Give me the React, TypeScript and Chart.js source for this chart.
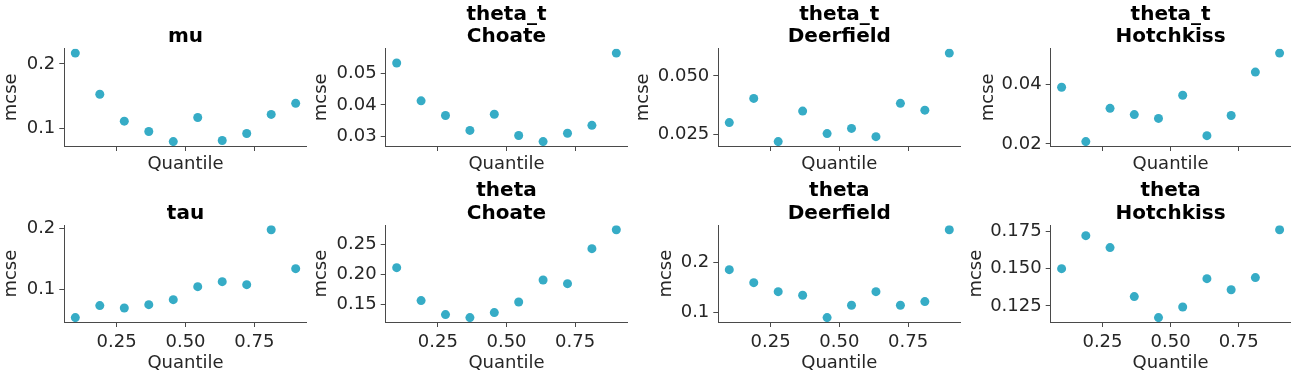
import React, { useEffect, useRef } from 'react';
import { Chart, registerables } from 'chart.js';

Chart.register(...registerables);

// ---------------- data ----------------
const quantiles = [0.1, 0.1889, 0.2778, 0.3667, 0.4556, 0.5444, 0.6333, 0.7222, 0.8111, 0.9];
const xTickLabels = ['0.25', '0.50', '0.75'];

const muMcse = [0.2167, 0.1527, 0.1109, 0.0948, 0.0792, 0.1167, 0.0808, 0.0917, 0.1214, 0.1386];
const thetaTChoateMcse = [0.0532, 0.0413, 0.0367, 0.032, 0.0371, 0.0304, 0.0285, 0.0311, 0.0336, 0.0563];
const thetaTDeerfieldMcse = [0.0301, 0.0404, 0.022, 0.035, 0.0254, 0.0276, 0.0241, 0.0383, 0.0354, 0.0597];
const thetaTHotchkissMcse = [0.0391, 0.0208, 0.032, 0.0299, 0.0286, 0.0364, 0.0228, 0.0296, 0.0442, 0.0506];
const tauMcse = [0.0541, 0.0738, 0.0699, 0.0754, 0.0836, 0.1049, 0.1131, 0.1082, 0.1984, 0.1344];
const thetaChoateMcse = [0.2117, 0.1567, 0.1333, 0.1283, 0.1367, 0.1544, 0.1911, 0.185, 0.2433, 0.275];
const thetaDeerfieldMcse = [0.186, 0.16, 0.142, 0.1347, 0.09, 0.1147, 0.142, 0.1147, 0.122, 0.266];
const thetaHotchkissMcse = [0.15, 0.1721, 0.1641, 0.1313, 0.1172, 0.1243, 0.1433, 0.1359, 0.144, 0.1761];

const muTicks = ['0.1', '0.2'];
const thetaTChoateTicks = ['0.03', '0.04', '0.05'];
const thetaTDeerfieldTicks = ['0.025', '0.050'];
const thetaTHotchkissTicks = ['0.02', '0.04'];
const tauTicks = ['0.1', '0.2'];
const thetaChoateTicks = ['0.15', '0.20', '0.25'];
const thetaDeerfieldTicks = ['0.1', '0.2'];
const thetaHotchkissTicks = ['0.125', '0.150', '0.175'];

const muTitle = ['mu'];
const thetaTChoateTitle = ['theta_t', 'Choate'];
const thetaTDeerfieldTitle = ['theta_t', 'Deerfield'];
const thetaTHotchkissTitle = ['theta_t', 'Hotchkiss'];
const tauTitle = ['tau'];
const thetaChoateTitle = ['theta', 'Choate'];
const thetaDeerfieldTitle = ['theta', 'Deerfield'];
const thetaHotchkissTitle = ['theta', 'Hotchkiss'];

// ---------------- layout / style ----------------
const W = 1295;
const H = 376;
const colLeft = [64.3, 385.7, 718.3, 1050.7];
const colRight = [306.7, 627.3, 960.3, 1292.7];
const rowTop = [48.7, 225.3];
const rowBottom = [146, 322];
const xTitleY = [164, 363];
const yTitleXRows = [
  [11.7, 321.7, 643.4, 988.4],
  [11.7, 321.7, 666.7, 976.7],
];

const FONT = 'DejaVu Sans';
const LABEL_SIZE = 18;
const LABEL_LH = LABEL_SIZE * 1.2;
const TITLE_SIZE = 20;
const TITLE_LH = 22.5;
const POINT_COLOR = '#36acc6';
const TEXT_COLOR = '#262626';
const AXIS_COLOR = '#4a4a4a';

type Panel = { title: string[]; values: number[]; yTicks: string[]; row: number; col: number };

const panels: Panel[] = [
  { title: muTitle, values: muMcse, yTicks: muTicks, row: 0, col: 0 },
  { title: thetaTChoateTitle, values: thetaTChoateMcse, yTicks: thetaTChoateTicks, row: 0, col: 1 },
  { title: thetaTDeerfieldTitle, values: thetaTDeerfieldMcse, yTicks: thetaTDeerfieldTicks, row: 0, col: 2 },
  { title: thetaTHotchkissTitle, values: thetaTHotchkissMcse, yTicks: thetaTHotchkissTicks, row: 0, col: 3 },
  { title: tauTitle, values: tauMcse, yTicks: tauTicks, row: 1, col: 0 },
  { title: thetaChoateTitle, values: thetaChoateMcse, yTicks: thetaChoateTicks, row: 1, col: 1 },
  { title: thetaDeerfieldTitle, values: thetaDeerfieldMcse, yTicks: thetaDeerfieldTicks, row: 1, col: 2 },
  { title: thetaHotchkissTitle, values: thetaHotchkissMcse, yTicks: thetaHotchkissTicks, row: 1, col: 3 },
];

function withMargin(vals: number[]) {
  const lo = Math.min(...vals);
  const hi = Math.max(...vals);
  const m = (hi - lo) * 0.05;
  return [lo - m, hi + m];
}

function makeConfig(p: Panel): any {
  const plotL = colLeft[p.col];
  const plotR = colRight[p.col];
  const plotT = rowTop[p.row];
  const plotB = rowBottom[p.row];
  const yTitleX = yTitleXRows[p.row][p.col];
  const padLeft = yTitleX - LABEL_LH / 2;
  const yWidth = plotL - padLeft;
  const xBottom = xTitleY[p.row] + LABEL_LH / 2;
  const xHeight = xBottom - plotB;
  const padBottom = H - xBottom;
  const titlePadBottom = 0.5;
  const padTop = Math.max(0, plotT - titlePadBottom - p.title.length * TITLE_LH);
  const titlePadTop = plotT - titlePadBottom - p.title.length * TITLE_LH - padTop;
  const [xMin, xMax] = withMargin(quantiles);
  const [yMin, yMax] = withMargin(p.values);
  const yTickVals = p.yTicks.map((t) => parseFloat(t));
  const xTickVals = xTickLabels.map((t) => parseFloat(t));

  const gridOpts = {
    display: true,
    drawOnChartArea: false,
    drawTicks: true,
    tickLength: 5,
    color: AXIS_COLOR,
    lineWidth: 1,
  };
  const borderOpts = { display: true, color: AXIS_COLOR, width: 1 };

  return {
    type: 'scatter',
    data: {
      datasets: [
        {
          data: quantiles.map((q, i) => ({ x: q, y: p.values[i] })),
          backgroundColor: POINT_COLOR,
          borderColor: POINT_COLOR,
          borderWidth: 0,
          pointRadius: 4.5,
        },
      ],
    },
    options: {
      animation: false,
      responsive: false,
      devicePixelRatio: 1,
      events: [],
      layout: {
        padding: { left: padLeft, right: W - plotR, top: padTop, bottom: padBottom },
      },
      plugins: {
        legend: { display: false },
        tooltip: { enabled: false },
        title: {
          display: true,
          fullSize: false,
          text: p.title,
          color: '#000000',
          font: { family: FONT, size: TITLE_SIZE, weight: 'bold', lineHeight: TITLE_LH + 'px' },
          padding: { top: titlePadTop, bottom: titlePadBottom },
        },
      },
      scales: {
        x: {
          type: 'linear',
          min: xMin,
          max: xMax,
          afterBuildTicks: (scale: any) => {
            scale.ticks = xTickVals.map((v) => ({ value: v }));
          },
          afterFit: (scale: any) => {
            scale.height = xHeight;
          },
          ticks: {
            display: p.row === 1,
            autoSkip: false,
            maxRotation: 0,
            padding: 5,
            color: TEXT_COLOR,
            font: { family: FONT, size: LABEL_SIZE },
            callback: (_v: any, i: number) => xTickLabels[i],
          },
          grid: gridOpts,
          border: borderOpts,
          title: {
            display: true,
            text: 'Quantile',
            color: TEXT_COLOR,
            padding: 0,
            font: { family: FONT, size: LABEL_SIZE, lineHeight: 1.2 },
          },
        },
        y: {
          type: 'linear',
          min: yMin,
          max: yMax,
          afterBuildTicks: (scale: any) => {
            scale.ticks = yTickVals.map((v) => ({ value: v }));
          },
          afterFit: (scale: any) => {
            scale.width = yWidth;
          },
          ticks: {
            autoSkip: false,
            padding: 4,
            color: TEXT_COLOR,
            font: { family: FONT, size: LABEL_SIZE },
            callback: (_v: any, i: number) => p.yTicks[i],
          },
          grid: gridOpts,
          border: borderOpts,
          title: {
            display: true,
            text: 'mcse',
            color: TEXT_COLOR,
            padding: 0,
            font: { family: FONT, size: LABEL_SIZE, lineHeight: 1.2 },
          },
        },
      },
    },
  };
}

function PanelCanvas({ panel }: { panel: Panel }) {
  const ref = useRef<HTMLCanvasElement | null>(null);
  useEffect(() => {
    if (!ref.current) return;
    const chart = new Chart(ref.current, makeConfig(panel));
    return () => chart.destroy();
  }, [panel]);
  return (
    <canvas
      ref={ref}
      width={W}
      height={H}
      style={{ position: 'absolute', left: 0, top: 0, width: W, height: H }}
    />
  );
}

export default function App() {
  useEffect(() => {
    document.body.style.margin = '0';
  }, []);
  return (
    <div style={{ position: 'fixed', left: 0, top: 0, width: W, height: H, background: '#ffffff' }}>
      {panels.map((p, i) => (
        <PanelCanvas key={i} panel={p} />
      ))}
    </div>
  );
}
